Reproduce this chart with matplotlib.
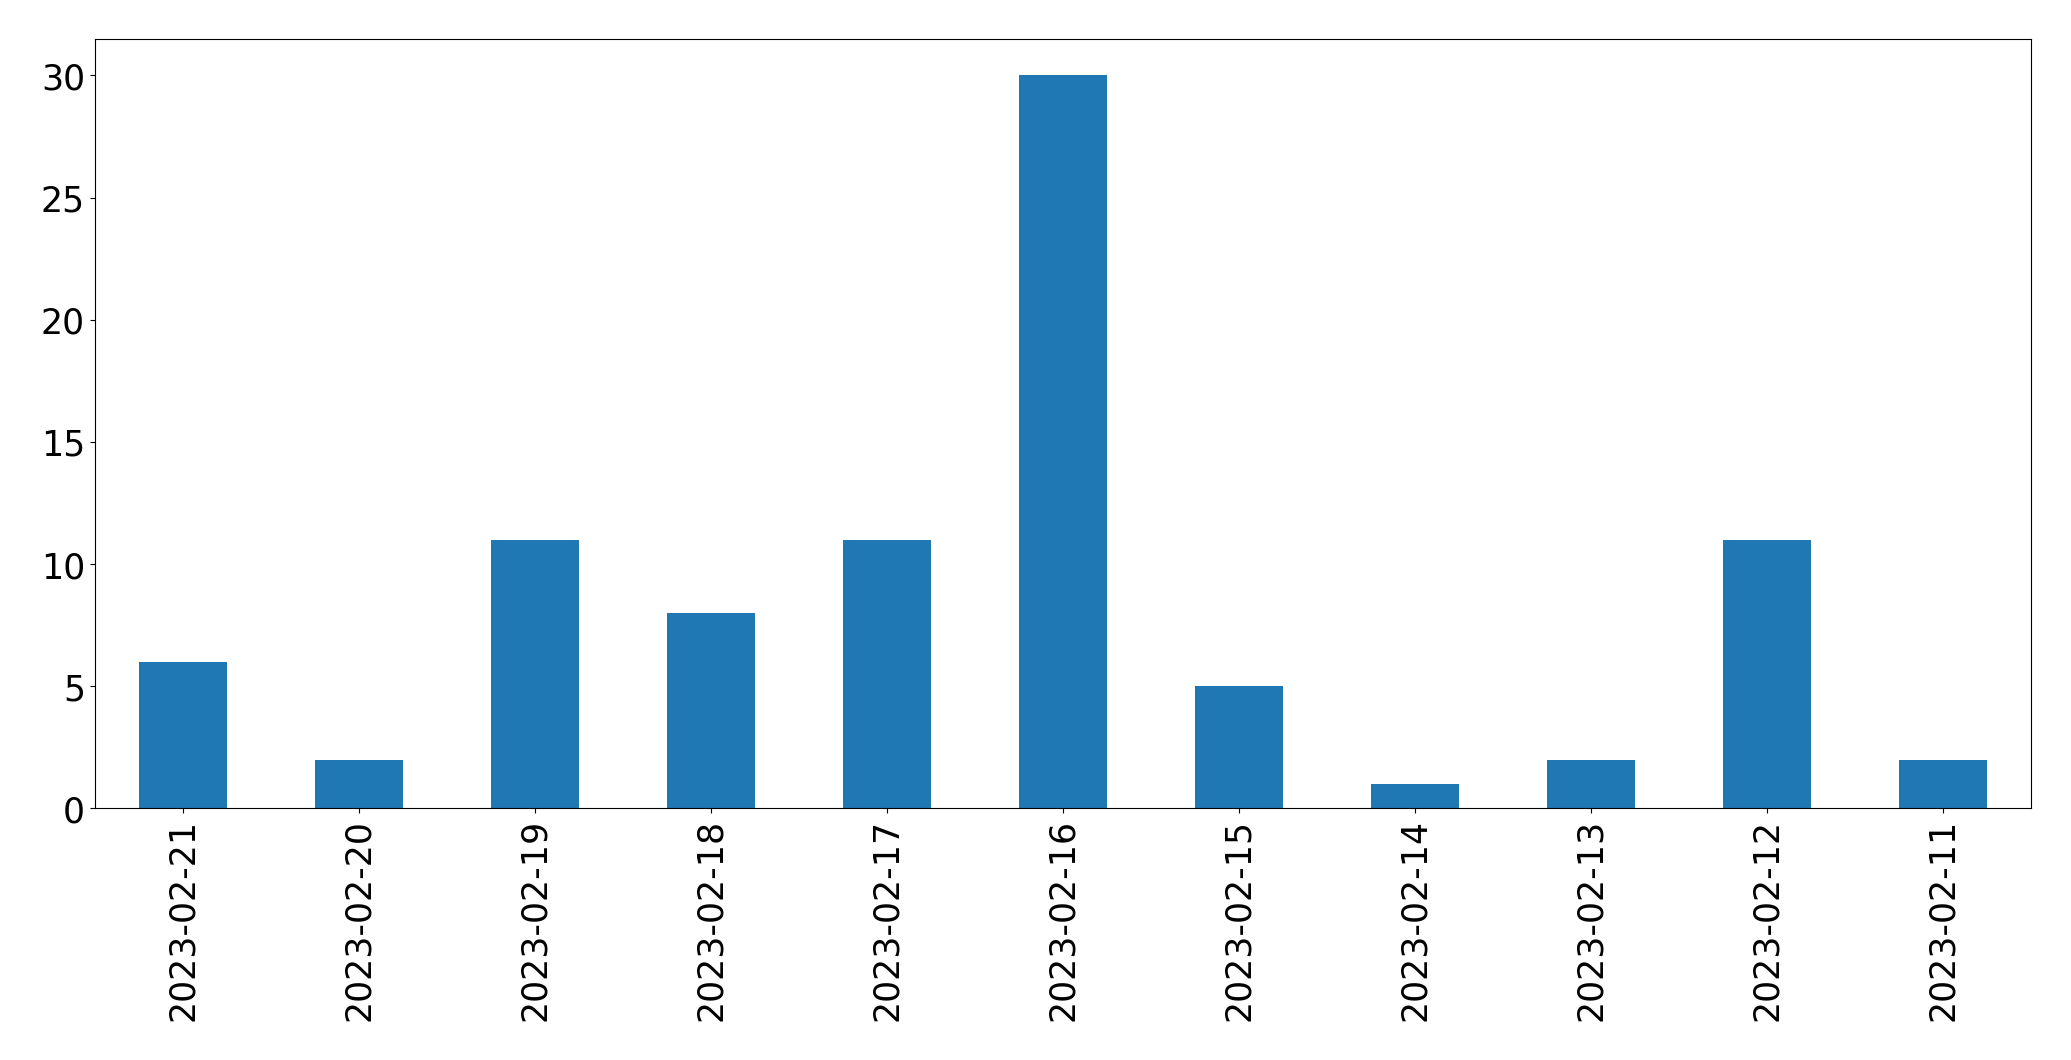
import matplotlib
matplotlib.use("Agg")
import matplotlib.pyplot as plt
import pandas as pd

dates = ["2023-02-21", "2023-02-20", "2023-02-19", "2023-02-18", "2023-02-17",
         "2023-02-16", "2023-02-15", "2023-02-14", "2023-02-13", "2023-02-12",
         "2023-02-11"]
counts = [6, 2, 11, 8, 11, 30, 5, 1, 2, 11, 2]

s = pd.Series(counts, index=dates)

fig = plt.figure(figsize=(20.71, 10.605), dpi=100)
ax = fig.add_axes([94.7 / 2071, 1 - 809.3 / 1061, (2031 - 94.7) / 2071, (809.3 - 39.3) / 1061])
s.plot(kind="bar", ax=ax, color="#1f77b4", width=0.5)
ax.tick_params(axis="both", labelsize=25)
ax.set_xlabel("")
fig.savefig("out.png", dpi=100)
